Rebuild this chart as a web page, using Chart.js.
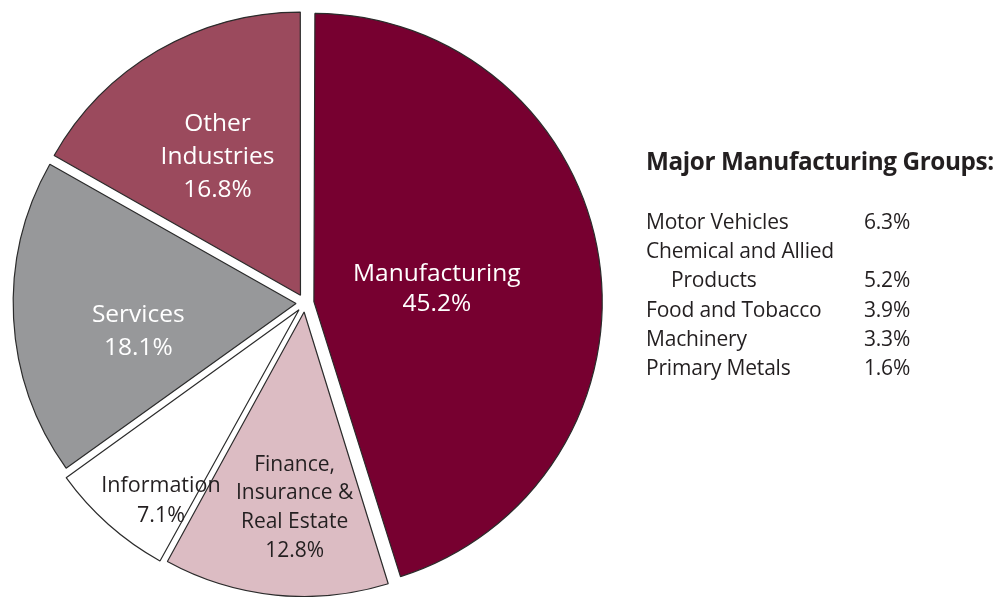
<!DOCTYPE html>
<html>
<head>
<meta charset="utf-8">
<script src="https://cdn.jsdelivr.net/npm/chart.js@4"></script>
<style>
  body { margin: 0; background: #fff; }
  #wrap { position: relative; width: 1001px; height: 597px; }
  #pie { position: absolute; left: 0; top: 0; }
  .side { position: absolute; left: 646px; top: 144px; font-family: 'Open Sans', sans-serif; color: #231f20; }
  .side h3 { margin: 0 0 30px 0; font-size: 24.3px; font-weight: 700; letter-spacing: -0.4px; white-space: nowrap; }
  .side table { border-collapse: collapse; font-size: 21px; letter-spacing: -0.2px; }
  .side td { padding: 0; height: 29.2px; line-height: 29.2px; vertical-align: bottom; white-space: nowrap; }
</style>
</head>
<body>
<div id="wrap">
  <canvas id="pie" width="1001" height="597"></canvas>
  <div class="side">
    <h3>Major Manufacturing Groups:</h3>
    <table id="groups"></table>
  </div>
</div>
<script>
const categories = ['Manufacturing', 'Finance, Insurance & Real Estate', 'Information', 'Services', 'Other Industries'];
const shares = [45.2, 12.8, 7.1, 18.1, 16.8];
const sliceColors = ['#770030', '#dcbcc3', '#ffffff', '#97989a', '#9b4a5d'];

const groupNames = ['Motor Vehicles', 'Chemical and Allied|Products', 'Food and Tobacco', 'Machinery', 'Primary Metals'];
const groupShares = [6.3, 5.2, 3.9, 3.3, 1.6];

// label lines inside each slice
const labelLines = [['Manufacturing'], ['Finance,', 'Insurance &', 'Real Estate'], ['Information'], ['Services'], ['Other', 'Industries']];

// side table
const tbl = document.getElementById('groups');
groupNames.forEach((name, i) => {
  const parts = name.split('|');
  if (parts.length > 1) {
    tbl.insertAdjacentHTML('beforeend', '<tr><td style="width:218px">' + parts[0] + '</td><td></td></tr>');
    tbl.insertAdjacentHTML('beforeend', '<tr><td style="padding-left:25px">' + parts[1] + '</td><td>' + groupShares[i].toFixed(1) + '%</td></tr>');
  } else {
    tbl.insertAdjacentHTML('beforeend', '<tr><td style="width:218px">' + name + '</td><td>' + groupShares[i].toFixed(1) + '%</td></tr>');
  }
});

const labelPlugin = {
  id: 'sliceLabels',
  afterDatasetsDraw(chart) {
    const { ctx } = chart;
    const meta = chart.getDatasetMeta(0);
    // radius fraction, angle nudge (rad), dx, dy, font size, color, line height
    const place = [
      [0.50, 0.10, -9, -7, 24.5, '#fff', 30],
      [0.72, 0.02, 14, 3, 21, '#231f20', 28.7],
      [0.86, -0.10, -2, 1, 21.5, '#231f20', 30],
      [0.60, -0.08, 1, 6, 24.5, '#fff', 33],
      [0.62, 0.03, -4, 8, 24.5, '#fff', 33]
    ];
    meta.data.forEach((arc, i) => {
      const [frac, nudge, dx, dy, size, color, lh] = place[i];
      const a = (arc.startAngle + arc.endAngle) / 2 + nudge;
      const r = arc.outerRadius * frac;
      const x = arc.x + Math.cos(a) * r + dx;
      const y = arc.y + Math.sin(a) * r + dy;
      const lines = labelLines[i].concat([shares[i].toFixed(1) + '%']);
      ctx.save();
      ctx.fillStyle = color;
      ctx.font = size + "px 'Open Sans'";
      ctx.textAlign = 'center';
      ctx.textBaseline = 'middle';
      const top = y - (lines.length - 1) * lh / 2;
      lines.forEach((t, k) => ctx.fillText(t, x, top + k * lh));
      ctx.restore();
    });
  }
};

new Chart(document.getElementById('pie'), {
  type: 'pie',
  data: {
    labels: categories,
    datasets: [{
      data: shares,
      backgroundColor: sliceColors,
      borderColor: '#2b2b2b',
      borderWidth: 1.2,
      offset: 36,
      radius: 282
    }]
  },
  options: {
    responsive: false,
    animation: false,
    layout: { padding: { left: 0, right: 391, top: 9, bottom: 0 } },
    plugins: {
      legend: { display: false },
      tooltip: { enabled: false }
    }
  },
  plugins: [labelPlugin]
});
</script>
</body>
</html>
